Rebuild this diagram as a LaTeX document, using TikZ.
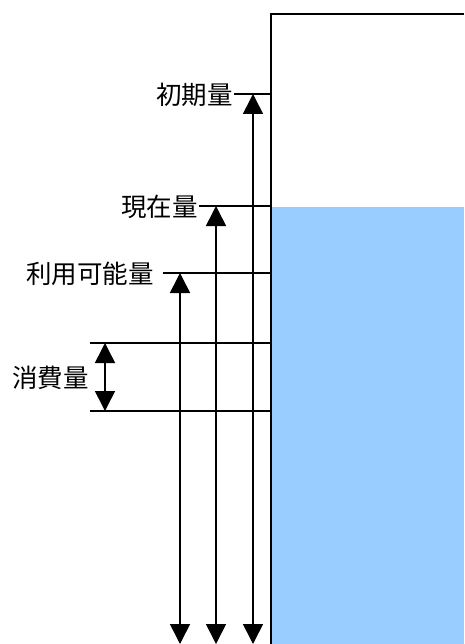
\documentclass[tikz,border=0pt]{standalone}
\usepackage{fontspec}
\newfontfamily\cjk{Noto Sans CJK JP}
\usetikzlibrary{arrows.meta}
\definecolor{water}{HTML}{99CCFF}
\begin{document}
\begin{tikzpicture}[x=1pt,y=-1pt,
  lbl/.style={font=\cjk\fontsize{25.5}{28}\selectfont, inner sep=0pt, anchor=east},
  lvl/.style={line width=1.6pt},
  dim/.style={line width=1.6pt, {Triangle[width=20pt,length=20pt]}-{Triangle[width=20pt,length=20pt]}}]
\useasboundingbox (0,0) rectangle (464,644);
% tank
\fill[water] (271,207) rectangle (464,644);
\draw[line width=1.8pt] (464,14) -- (271,14) -- (271,644);
% labels
\node[lbl] (init) at (233,95) {初期量};
\node[lbl] (cur) at (198,207) {現在量};
\node[lbl] (avail) at (154,274) {利用可能量};
\node[lbl] (cons) at (89,378) {消費量};
% level coordinates
\coordinate (e1) at (234,94);
\coordinate (w1) at (271,94);
\coordinate (e2) at (199,206);
\coordinate (w2) at (271,206);
\coordinate (a3) at (163,273);
\coordinate (w3) at (271,273);
\coordinate (c4a) at (90,343);
\coordinate (w4a) at (271,343);
\coordinate (c4b) at (90,411);
\coordinate (w4b) at (271,411);
\draw[lvl] (e1) -- (w1);
\draw[lvl] (e2) -- (w2);
\draw[lvl] (a3) -- (w3);
\draw[lvl] (c4a) -- (w4a);
\draw[lvl] (c4b) -- (w4b);
% dimension arrows
\coordinate (d1t) at (253,94);   \coordinate (d1b) at (253,644);
\coordinate (d2t) at (216,206);  \coordinate (d2b) at (216,644);
\coordinate (d3t) at (180,273);  \coordinate (d3b) at (180,644);
\coordinate (d4t) at (105,343);  \coordinate (d4b) at (105,411);
\draw[dim] (d1t) -- (d1b);
\draw[dim] (d2t) -- (d2b);
\draw[dim] (d3t) -- (d3b);
\draw[dim] (d4t) -- (d4b);
\end{tikzpicture}
\end{document}
